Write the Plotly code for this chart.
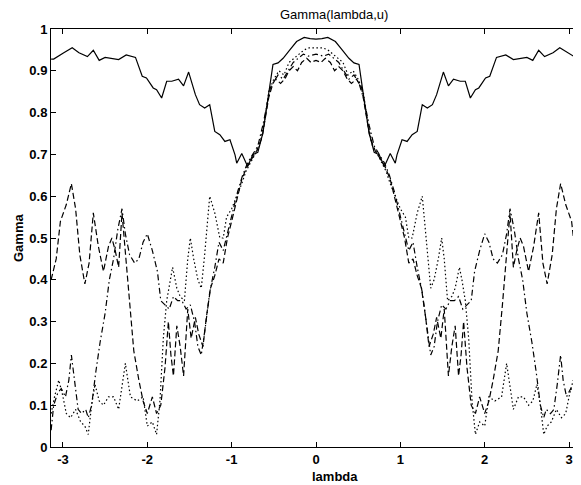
import plotly.graph_objects as go

# ---- data ----
solid_lam = [-3.14,-3.11,-2.99,-2.89,-2.81,-2.71,-2.64,-2.57,-2.50,-2.34,-2.25,-2.14,-2.06,-2.01,-1.93,-1.89,-1.83,-1.77,-1.71,-1.63,-1.57,-1.51,-1.43,-1.38,-1.32,-1.26,-1.20,-1.14,-1.08,-1.02,-0.96,-0.94,-0.88,-0.81,-0.75,-0.69,-0.63,-0.57,-0.51,-0.45,-0.39,-0.31,-0.23,-0.14,-0.07,0.00,
             0.07,0.14,0.23,0.31,0.39,0.45,0.51,0.57,0.63,0.69,0.75,0.81,0.88,0.94,0.96,1.02,1.08,1.14,1.20,1.26,1.32,1.38,1.43,1.51,1.57,1.63,1.71,1.77,1.83,1.89,1.93,2.01,2.06,2.14,2.25,2.34,2.50,2.57,2.64,2.71,2.81,2.89,2.99,3.11,3.14]
solid_gam = [0.928,0.928,0.943,0.955,0.943,0.934,0.949,0.925,0.932,0.927,0.938,0.932,0.887,0.883,0.859,0.855,0.835,0.875,0.875,0.880,0.864,0.897,0.843,0.819,0.811,0.819,0.755,0.747,0.731,0.735,0.699,0.679,0.702,0.671,0.699,0.705,0.751,0.831,0.915,0.919,0.930,0.950,0.970,0.980,0.977,0.976,
             0.977,0.980,0.970,0.950,0.930,0.919,0.915,0.831,0.751,0.705,0.699,0.671,0.702,0.679,0.699,0.735,0.731,0.747,0.755,0.819,0.811,0.819,0.843,0.897,0.864,0.880,0.875,0.875,0.835,0.855,0.859,0.883,0.887,0.932,0.938,0.927,0.932,0.925,0.949,0.934,0.943,0.955,0.943,0.928,0.928]

dashed_lam = [-3.14,-3.08,-3.03,-2.96,-2.90,-2.85,-2.80,-2.74,-2.69,-2.64,-2.58,-2.52,-2.46,-2.42,-2.38,-2.34,-2.30,-2.26,-2.21,-2.16,-2.10,-2.05,-2.00,-1.94,-1.89,-1.84,-1.79,-1.75,-1.72,-1.69,-1.65,-1.61,-1.57,-1.52,-1.48,-1.43,-1.39,-1.34,-1.30,-1.25,-1.20,-1.15,-1.10,-1.05,-1.00,-0.94,-0.88,-0.82,-0.76,-0.70,-0.64,-0.59,-0.54,-0.48,-0.42,-0.37,-0.32,-0.27,-0.22,-0.17,-0.11,-0.06,0.00,
              0.06,0.11,0.17,0.22,0.27,0.32,0.37,0.42,0.48,0.54,0.59,0.64,0.70,0.76,0.82,0.88,0.94,1.00,1.05,1.10,1.15,1.20,1.25,1.30,1.34,1.39,1.43,1.48,1.52,1.57,1.61,1.65,1.69,1.72,1.75,1.79,1.84,1.89,1.94,2.00,2.05,2.10,2.16,2.21,2.26,2.30,2.34,2.38,2.42,2.46,2.52,2.58,2.64,2.69,2.74,2.80,2.85,2.90,2.96,3.03,3.08,3.14]
dashed_gam = [0.40,0.45,0.54,0.58,0.63,0.57,0.46,0.39,0.44,0.56,0.48,0.42,0.48,0.50,0.47,0.43,0.56,0.46,0.34,0.23,0.16,0.11,0.08,0.12,0.08,0.10,0.19,0.30,0.22,0.17,0.29,0.24,0.17,0.33,0.26,0.31,0.27,0.24,0.31,0.38,0.41,0.45,0.44,0.50,0.54,0.59,0.64,0.67,0.69,0.71,0.74,0.80,0.86,0.88,0.87,0.88,0.90,0.91,0.90,0.92,0.93,0.92,0.925,
              0.92,0.93,0.92,0.90,0.91,0.90,0.88,0.87,0.88,0.86,0.80,0.74,0.71,0.69,0.67,0.64,0.59,0.54,0.50,0.44,0.45,0.41,0.38,0.31,0.24,0.27,0.31,0.26,0.33,0.17,0.24,0.29,0.17,0.22,0.30,0.19,0.10,0.08,0.12,0.08,0.11,0.16,0.23,0.34,0.46,0.56,0.43,0.47,0.50,0.48,0.42,0.48,0.56,0.44,0.39,0.46,0.57,0.63,0.58,0.54,0.45,0.40]

dashdot_lam = [-3.14,-3.11,-3.06,-3.02,-2.97,-2.93,-2.90,-2.86,-2.82,-2.78,-2.73,-2.70,-2.66,-2.61,-2.56,-2.50,-2.45,-2.40,-2.35,-2.30,-2.26,-2.21,-2.15,-2.10,-2.05,-2.00,-1.94,-1.88,-1.84,-1.79,-1.74,-1.69,-1.64,-1.59,-1.54,-1.49,-1.44,-1.40,-1.36,-1.31,-1.26,-1.20,-1.15,-1.10,-1.05,-0.99,-0.93,-0.87,-0.81,-0.75,-0.69,-0.63,-0.57,-0.51,-0.45,-0.39,-0.33,-0.27,-0.21,-0.15,-0.09,0.00,
               0.09,0.15,0.21,0.27,0.33,0.39,0.45,0.51,0.57,0.63,0.69,0.75,0.81,0.87,0.93,0.99,1.05,1.10,1.15,1.20,1.26,1.31,1.36,1.40,1.44,1.49,1.54,1.59,1.64,1.69,1.74,1.79,1.84,1.88,1.94,2.00,2.05,2.10,2.15,2.21,2.26,2.30,2.35,2.40,2.45,2.50,2.56,2.61,2.66,2.70,2.73,2.78,2.82,2.86,2.90,2.93,2.97,3.02,3.06,3.11,3.14]
dashdot_gam = [0.04,0.10,0.13,0.14,0.12,0.16,0.22,0.15,0.09,0.08,0.09,0.07,0.10,0.18,0.25,0.32,0.40,0.45,0.52,0.57,0.51,0.46,0.44,0.45,0.49,0.51,0.47,0.42,0.35,0.34,0.33,0.36,0.35,0.35,0.33,0.34,0.30,0.24,0.22,0.29,0.37,0.43,0.49,0.47,0.51,0.56,0.61,0.65,0.68,0.70,0.72,0.77,0.83,0.87,0.89,0.88,0.90,0.92,0.93,0.94,0.935,0.94,
               0.935,0.94,0.93,0.92,0.90,0.88,0.89,0.87,0.83,0.77,0.72,0.70,0.68,0.65,0.61,0.56,0.51,0.47,0.49,0.43,0.37,0.29,0.22,0.24,0.30,0.34,0.33,0.35,0.35,0.36,0.33,0.34,0.35,0.42,0.47,0.51,0.49,0.45,0.44,0.46,0.51,0.57,0.52,0.45,0.40,0.32,0.25,0.18,0.10,0.07,0.09,0.08,0.09,0.15,0.22,0.16,0.12,0.14,0.13,0.10,0.04]

dotted_lam = [-3.14,-3.10,-3.05,-3.01,-2.96,-2.91,-2.85,-2.79,-2.74,-2.70,-2.66,-2.62,-2.57,-2.52,-2.46,-2.40,-2.34,-2.26,-2.20,-2.12,-2.05,-2.00,-1.94,-1.89,-1.85,-1.81,-1.77,-1.73,-1.70,-1.65,-1.61,-1.56,-1.52,-1.49,-1.45,-1.40,-1.36,-1.32,-1.29,-1.26,-1.20,-1.14,-1.10,-1.06,-1.00,-0.94,-0.88,-0.83,-0.78,-0.73,-0.67,-0.61,-0.56,-0.50,-0.44,-0.38,-0.32,-0.26,-0.20,-0.14,-0.08,0.00,
              0.08,0.14,0.20,0.26,0.32,0.38,0.44,0.50,0.56,0.61,0.67,0.73,0.78,0.83,0.88,0.94,1.00,1.06,1.10,1.14,1.20,1.26,1.29,1.32,1.36,1.40,1.45,1.49,1.52,1.56,1.61,1.65,1.70,1.73,1.77,1.81,1.85,1.89,1.94,2.00,2.05,2.12,2.20,2.26,2.34,2.40,2.46,2.52,2.57,2.62,2.66,2.70,2.74,2.79,2.85,2.91,2.96,3.01,3.05,3.10,3.14]
dotted_gam = [0.08,0.12,0.16,0.13,0.08,0.07,0.09,0.06,0.05,0.03,0.10,0.15,0.11,0.10,0.12,0.12,0.09,0.20,0.12,0.11,0.12,0.05,0.06,0.03,0.11,0.26,0.35,0.40,0.43,0.38,0.36,0.35,0.45,0.50,0.45,0.40,0.38,0.46,0.53,0.60,0.56,0.50,0.50,0.55,0.57,0.60,0.63,0.66,0.68,0.70,0.72,0.78,0.85,0.88,0.90,0.89,0.92,0.93,0.94,0.95,0.955,0.955,
              0.955,0.95,0.94,0.93,0.92,0.89,0.90,0.88,0.85,0.78,0.72,0.70,0.68,0.66,0.63,0.60,0.57,0.55,0.50,0.50,0.56,0.60,0.53,0.46,0.38,0.40,0.45,0.50,0.45,0.35,0.36,0.38,0.43,0.40,0.35,0.26,0.11,0.03,0.06,0.05,0.12,0.11,0.12,0.20,0.09,0.12,0.12,0.10,0.11,0.15,0.10,0.03,0.05,0.06,0.09,0.07,0.08,0.13,0.16,0.12,0.08]

x_ticks = [-3, -2, -1, 0, 1, 2, 3]
x_tick_text = ["-3", "-2", "-1", "0", "1", "2", "3"]
y_ticks = [0, 0.1, 0.2, 0.3, 0.4, 0.5, 0.6, 0.7, 0.8, 0.9, 1]
y_tick_text = ["0", "0.1", "0.2", "0.3", "0.4", "0.5", "0.6", "0.7", "0.8", "0.9", "1"]

FONT = "Liberation Sans, Arial, Helvetica, sans-serif"

fig = go.Figure()
series = [
    (solid_lam, solid_gam, "solid"),
    (dashed_lam, dashed_gam, "6px,3px"),
    (dashdot_lam, dashdot_gam, "6px,3px,1.5px,3px"),
    (dotted_lam, dotted_gam, "1.5px,2.5px"),
]
for lx, gy, dash in series:
    fig.add_trace(go.Scatter(x=lx, y=gy, mode="lines",
                             line=dict(color="black", width=1.2, dash=dash),
                             showlegend=False, hoverinfo="skip"))

axis_common = dict(showline=True, linecolor="black", linewidth=1, mirror="allticks",
                   ticks="inside", ticklen=5, tickcolor="black", tickwidth=1,
                   showgrid=False, zeroline=False, automargin=False,
                   tickfont=dict(family=FONT, size=13, color="black", weight="bold"))
fig.update_xaxes(range=[-3.14159, 3.14159], tickvals=x_ticks, ticktext=x_tick_text, **axis_common)
fig.update_yaxes(range=[0, 1], tickvals=y_ticks, ticktext=y_tick_text, **axis_common)

# page body has an 8px default margin: figure is 573x477 so that it ends at the window edge
# plot area on screen: x 51..581, y 29..447
def px(X):
    return (X - 51) / 530

def py(Y):
    return (447 - Y) / 418

fig.update_layout(
    width=573, height=477,
    margin=dict(l=43, r=0, t=21, b=38, autoexpand=False),
    paper_bgcolor="white", plot_bgcolor="white",
    annotations=[
        dict(text="Gamma(lambda,u)", x=px(334), xref="paper", y=py(15), yref="paper",
             xanchor="center", yanchor="middle", showarrow=False,
             font=dict(family=FONT, size=13, color="black")),
        dict(text="lambda", x=px(335), xref="paper", y=py(476), yref="paper",
             xanchor="center", yanchor="middle", showarrow=False,
             font=dict(family=FONT, size=13, color="black", weight="bold")),
        dict(text="Gamma", x=px(18), xref="paper", y=py(238), yref="paper",
             xanchor="center", yanchor="middle", textangle=-90, showarrow=False,
             font=dict(family=FONT, size=13, color="black", weight="bold")),
    ],
)

fig.write_html("out.html")
